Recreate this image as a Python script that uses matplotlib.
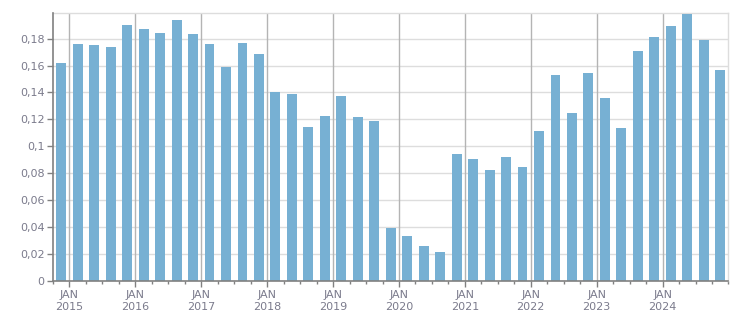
import matplotlib.pyplot as plt
from matplotlib.ticker import FixedLocator, FuncFormatter

# Datos trimestrales (T4 2014 - T4 2024)
trimestres = ["2014T4",
              "2015T1", "2015T2", "2015T3", "2015T4",
              "2016T1", "2016T2", "2016T3", "2016T4",
              "2017T1", "2017T2", "2017T3", "2017T4",
              "2018T1", "2018T2", "2018T3", "2018T4",
              "2019T1", "2019T2", "2019T3", "2019T4",
              "2020T1", "2020T2", "2020T3", "2020T4",
              "2021T1", "2021T2", "2021T3", "2021T4",
              "2022T1", "2022T2", "2022T3", "2022T4",
              "2023T1", "2023T2", "2023T3", "2023T4",
              "2024T1", "2024T2", "2024T3", "2024T4"]
valores = [0.162,
           0.176, 0.175, 0.174, 0.190,
           0.187, 0.184, 0.194, 0.1835,
           0.176, 0.159, 0.177, 0.1686,
           0.1403, 0.1388, 0.1142, 0.1224,
           0.1373, 0.1217, 0.1187, 0.0390,
           0.0330, 0.0256, 0.0211, 0.0941,
           0.0904, 0.0822, 0.0919, 0.0844,
           0.1112, 0.1530, 0.1246, 0.1544,
           0.1358, 0.1135, 0.1708, 0.1813,
           0.1894, 0.1984, 0.1790, 0.1567]
anios = [2015, 2016, 2017, 2018, 2019, 2020, 2021, 2022, 2023, 2024]
etiquetas_y = [0, 0.02, 0.04, 0.06, 0.08, 0.1, 0.12, 0.14, 0.16, 0.18]

color_barra = "#77b0d3"
color_texto = "#7b7b8c"

fig = plt.figure(figsize=(7.51, 3.13), dpi=100)
ax = fig.add_axes([0.0706, 0.1038, 0.8994, 0.8537])

posiciones = [i + 0.5 for i in range(len(valores))]
ax.bar(posiciones, valores, width=0.6, color=color_barra, zorder=3)

ax.set_xlim(0, len(valores))
ax.set_ylim(0, 0.1989)

# Ticks del eje X: mayores en enero, menores cada trimestre
mayores = [1 + 4 * k for k in range(len(anios))]
ax.xaxis.set_major_locator(FixedLocator(mayores))
ax.xaxis.set_minor_locator(FixedLocator(range(0, len(valores) + 1)))
ax.set_xticklabels([f"JAN\n{a}" for a in anios])
ax.tick_params(axis="x", which="major", length=4, width=1, color="#808080",
               labelsize=8, labelcolor=color_texto, pad=3)
ax.tick_params(axis="x", which="minor", length=2, width=1, color="#808080")

ax.yaxis.set_major_locator(FixedLocator(etiquetas_y))
ax.yaxis.set_major_formatter(FuncFormatter(lambda v, p: f"{v:g}".replace(".", ",")))
ax.tick_params(axis="y", length=4, width=1, color="#808080",
               labelsize=8, labelcolor=color_texto, pad=2)

# Rejilla
for y in etiquetas_y[1:]:
    ax.axhline(y, color="#dddddd", linewidth=1, zorder=1)
for x in mayores:
    ax.axvline(x, color="#b4b4b4", linewidth=1, zorder=2)

for lado in ["top", "right"]:
    ax.spines[lado].set_color("#dddddd")
    ax.spines[lado].set_linewidth(1)
for lado in ["left", "bottom"]:
    ax.spines[lado].set_color("#808080")
    ax.spines[lado].set_linewidth(1.2)
    ax.spines[lado].set_zorder(4)

fig.savefig("out.png", dpi=100)
